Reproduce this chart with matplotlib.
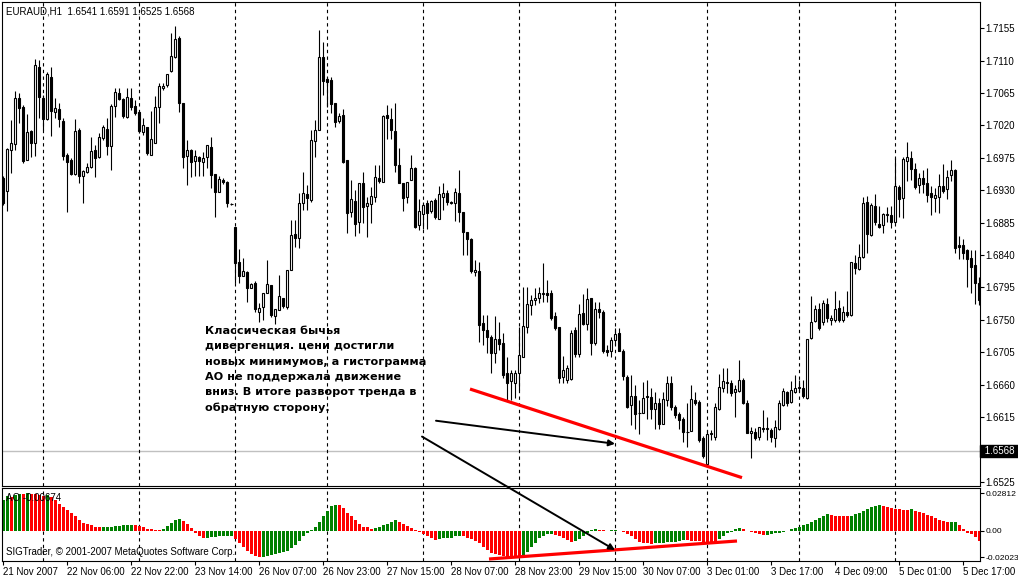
import matplotlib
matplotlib.use("Agg")
import matplotlib.pyplot as plt
from matplotlib.patches import Rectangle, ConnectionPatch
import numpy as np

W, H = 1018, 576

# EURAUD H1 bars
opens = [
    1.6947, 1.6929, 1.6986, 1.6994, 1.7058, 1.7046, 1.6972, 1.7012, 1.6996, 1.7101,
    1.7058, 1.7029, 1.7087, 1.7038, 1.7043, 1.7026, 1.6979, 1.6972, 1.6952, 1.7014,
    1.6950, 1.6955, 1.6962, 1.6986, 1.6976, 1.7002, 1.7015, 1.6991, 1.7047, 1.7065,
    1.7057, 1.7032, 1.7058, 1.7047, 1.7038, 1.7011, 1.7018, 1.6979, 1.6996, 1.7046,
    1.7072, 1.7076, 1.7095, 1.7115, 1.7141, 1.7051, 1.6978, 1.6986, 1.6971, 1.6976,
    1.6969, 1.6976, 1.6990, 1.6952, 1.6928, 1.6944, 1.6941, 1.6911, 1.6879, 1.6830,
    1.6811, 1.6816, 1.6794, 1.6801, 1.6761, 1.6768, 1.6787, 1.6798, 1.6755, 1.6764,
    1.6781, 1.6768, 1.6819, 1.6869, 1.6864, 1.6912, 1.6925, 1.6916, 1.6998, 1.7014,
    1.7115, 1.7084, 1.7083, 1.7051, 1.7026, 1.7034, 1.6972, 1.6900, 1.6915, 1.6886,
    1.6940, 1.6908, 1.6911, 1.6920, 1.6947, 1.6941, 1.7034, 1.7029, 1.7012, 1.6965,
    1.6940, 1.6920, 1.6944, 1.6961, 1.6882, 1.6897, 1.6912, 1.6901, 1.6916, 1.6890,
    1.6920, 1.6926, 1.6914, 1.6912, 1.6926, 1.6900, 1.6872, 1.6862, 1.6816, 1.6818,
    1.6745, 1.6736, 1.6726, 1.6704, 1.6723, 1.6718, 1.6676, 1.6665, 1.6662, 1.6676,
    1.6698, 1.6740, 1.6770, 1.6778, 1.6781, 1.6786, 1.6787, 1.6787, 1.6755, 1.6740,
    1.6671, 1.6667, 1.6668, 1.6736, 1.6703, 1.6759, 1.6744, 1.6780, 1.6718, 1.6765,
    1.6761, 1.6708, 1.6707, 1.6722, 1.6732, 1.6707, 1.6671, 1.6632, 1.6645, 1.6621,
    1.6621, 1.6644, 1.6643, 1.6626, 1.6635, 1.6606, 1.6639, 1.6662, 1.6629, 1.6619,
    1.6612, 1.6594, 1.6596, 1.6639, 1.6636, 1.6586, 1.6550, 1.6592, 1.6588, 1.6626,
    1.6655, 1.6664, 1.6662, 1.6650, 1.6651, 1.6667, 1.6635, 1.6593, 1.6594, 1.6588,
    1.6600, 1.6599, 1.6597, 1.6586, 1.6599, 1.6632, 1.6650, 1.6636, 1.6650, 1.6655,
    1.6655, 1.6642, 1.6725, 1.6748, 1.6765, 1.6747, 1.6772, 1.6750, 1.6750, 1.6767,
    1.6750, 1.6761, 1.6757, 1.6829, 1.6820, 1.6837, 1.6914, 1.6868, 1.6908, 1.6883,
    1.6882, 1.6896, 1.6896, 1.6886, 1.6934, 1.6919, 1.6971, 1.6975, 1.6959, 1.6937,
    1.6947, 1.6940, 1.6926, 1.6919, 1.6920, 1.6936, 1.6932, 1.6951, 1.6958, 1.6854,
    1.6854, 1.6847, 1.6836, 1.6826, 1.6801,
]
highs = [
    1.6950, 1.6989, 1.7027, 1.7068, 1.7065, 1.7048, 1.7036, 1.7014, 1.7112, 1.7111,
    1.7062, 1.7094, 1.7101, 1.7058, 1.7051, 1.7030, 1.6982, 1.6975, 1.7029, 1.7016,
    1.6958, 1.6968, 1.7004, 1.6993, 1.7009, 1.7020, 1.7030, 1.7050, 1.7072, 1.7072,
    1.7058, 1.7072, 1.7072, 1.7055, 1.7040, 1.7030, 1.7018, 1.7040, 1.7061, 1.7079,
    1.7079, 1.7091, 1.7148, 1.7158, 1.7144, 1.7051, 1.7000, 1.6987, 1.6986, 1.6978,
    1.6983, 1.6993, 1.7004, 1.6952, 1.6950, 1.6947, 1.6943, 1.6912, 1.6879, 1.6848,
    1.6836, 1.6818, 1.6801, 1.6804, 1.6773, 1.6787, 1.6833, 1.6798, 1.6765, 1.6812,
    1.6781, 1.6819, 1.6889, 1.6889, 1.6926, 1.6955, 1.6937, 1.7014, 1.7027, 1.7152,
    1.7136, 1.7087, 1.7087, 1.7051, 1.7037, 1.7043, 1.6972, 1.6944, 1.6930, 1.6940,
    1.6955, 1.6920, 1.6934, 1.6965, 1.6965, 1.7034, 1.7048, 1.7044, 1.7051, 1.6989,
    1.6940, 1.6941, 1.6979, 1.6962, 1.6918, 1.6914, 1.6916, 1.6916, 1.6919, 1.6936,
    1.6940, 1.6930, 1.6915, 1.6933, 1.6958, 1.6900, 1.6872, 1.6864, 1.6833, 1.6830,
    1.6757, 1.6757, 1.6729, 1.6755, 1.6747, 1.6732, 1.6698, 1.6680, 1.6680, 1.6740,
    1.6796, 1.6796, 1.6784, 1.6794, 1.6796, 1.6829, 1.6805, 1.6791, 1.6761, 1.6740,
    1.6700, 1.6687, 1.6736, 1.6740, 1.6772, 1.6786, 1.6794, 1.6781, 1.6775, 1.6775,
    1.6764, 1.6715, 1.6726, 1.6739, 1.6739, 1.6710, 1.6673, 1.6673, 1.6659, 1.6639,
    1.6664, 1.6667, 1.6655, 1.6650, 1.6641, 1.6650, 1.6672, 1.6672, 1.6632, 1.6622,
    1.6615, 1.6635, 1.6659, 1.6650, 1.6639, 1.6589, 1.6597, 1.6597, 1.6635, 1.6675,
    1.6683, 1.6683, 1.6667, 1.6659, 1.6694, 1.6669, 1.6639, 1.6601, 1.6600, 1.6601,
    1.6625, 1.6615, 1.6600, 1.6611, 1.6639, 1.6655, 1.6651, 1.6665, 1.6673, 1.6667,
    1.6667, 1.6723, 1.6783, 1.6770, 1.6773, 1.6778, 1.6780, 1.6757, 1.6790, 1.6778,
    1.6769, 1.6790, 1.6830, 1.6840, 1.6855, 1.6921, 1.6922, 1.6912, 1.6925, 1.6908,
    1.6898, 1.6907, 1.6908, 1.6975, 1.6937, 1.6976, 1.6997, 1.6984, 1.6968, 1.6954,
    1.6958, 1.6961, 1.6936, 1.6933, 1.6952, 1.6966, 1.6958, 1.6972, 1.6959, 1.6866,
    1.6862, 1.6848, 1.6847, 1.6847, 1.6810,
]
lows = [
    1.6909, 1.6901, 1.6954, 1.6986, 1.7023, 1.6968, 1.6972, 1.6976, 1.6978, 1.7030,
    1.7014, 1.7027, 1.7005, 1.7030, 1.7018, 1.6972, 1.6900, 1.6951, 1.6951, 1.6940,
    1.6912, 1.6954, 1.6961, 1.6948, 1.6975, 1.7000, 1.6979, 1.6958, 1.7032, 1.7055,
    1.7030, 1.7030, 1.7041, 1.7034, 1.7009, 1.7007, 1.6979, 1.6979, 1.6996, 1.7023,
    1.7069, 1.7073, 1.7094, 1.7113, 1.7038, 1.6961, 1.6937, 1.6948, 1.6950, 1.6950,
    1.6950, 1.6961, 1.6933, 1.6893, 1.6928, 1.6939, 1.6907, 1.6909, 1.6801, 1.6801,
    1.6811, 1.6775, 1.6794, 1.6761, 1.6747, 1.6750, 1.6787, 1.6754, 1.6744, 1.6764,
    1.6767, 1.6765, 1.6819, 1.6851, 1.6850, 1.6902, 1.6902, 1.6914, 1.6976, 1.7014,
    1.7062, 1.7046, 1.7037, 1.7018, 1.7023, 1.6968, 1.6871, 1.6893, 1.6866, 1.6871,
    1.6884, 1.6865, 1.6884, 1.6914, 1.6940, 1.6941, 1.7001, 1.7001, 1.6955, 1.6940,
    1.6901, 1.6912, 1.6944, 1.6878, 1.6875, 1.6876, 1.6876, 1.6898, 1.6890, 1.6890,
    1.6902, 1.6909, 1.6911, 1.6887, 1.6886, 1.6840, 1.6840, 1.6815, 1.6811, 1.6719,
    1.6715, 1.6704, 1.6676, 1.6690, 1.6708, 1.6669, 1.6639, 1.6639, 1.6642, 1.6653,
    1.6698, 1.6732, 1.6757, 1.6770, 1.6773, 1.6775, 1.6775, 1.6750, 1.6736, 1.6662,
    1.6662, 1.6662, 1.6667, 1.6698, 1.6698, 1.6743, 1.6736, 1.6701, 1.6715, 1.6753,
    1.6704, 1.6700, 1.6698, 1.6715, 1.6707, 1.6667, 1.6627, 1.6604, 1.6599, 1.6592,
    1.6621, 1.6612, 1.6612, 1.6599, 1.6599, 1.6606, 1.6630, 1.6625, 1.6614, 1.6599,
    1.6580, 1.6573, 1.6596, 1.6632, 1.6580, 1.6558, 1.6548, 1.6583, 1.6583, 1.6625,
    1.6650, 1.6648, 1.6644, 1.6615, 1.6650, 1.6633, 1.6593, 1.6558, 1.6583, 1.6583,
    1.6594, 1.6583, 1.6580, 1.6573, 1.6597, 1.6630, 1.6630, 1.6635, 1.6648, 1.6650,
    1.6642, 1.6640, 1.6723, 1.6747, 1.6736, 1.6743, 1.6747, 1.6743, 1.6747, 1.6747,
    1.6747, 1.6754, 1.6755, 1.6814, 1.6819, 1.6836, 1.6843, 1.6866, 1.6882, 1.6878,
    1.6871, 1.6886, 1.6878, 1.6884, 1.6893, 1.6891, 1.6943, 1.6944, 1.6932, 1.6926,
    1.6926, 1.6914, 1.6896, 1.6900, 1.6898, 1.6926, 1.6918, 1.6943, 1.6843, 1.6834,
    1.6834, 1.6796, 1.6787, 1.6772, 1.6770,
]
closes = [
    1.6912, 1.6987, 1.6996, 1.7058, 1.7044, 1.6971, 1.7011, 1.6996, 1.7104, 1.7059,
    1.7029, 1.7091, 1.7040, 1.7044, 1.7029, 1.6978, 1.6969, 1.6952, 1.7012, 1.6950,
    1.6957, 1.6962, 1.6984, 1.6975, 1.7004, 1.7018, 1.6991, 1.7047, 1.7066, 1.7057,
    1.7033, 1.7059, 1.7046, 1.7037, 1.7012, 1.7020, 1.6982, 1.7001, 1.7046, 1.7075,
    1.7075, 1.7091, 1.7116, 1.7140, 1.7051, 1.6976, 1.6986, 1.6969, 1.6978, 1.6971,
    1.6975, 1.6993, 1.6951, 1.6928, 1.6945, 1.6941, 1.6912, 1.6911, 1.6829, 1.6811,
    1.6818, 1.6794, 1.6800, 1.6765, 1.6767, 1.6787, 1.6800, 1.6757, 1.6765, 1.6783,
    1.6769, 1.6819, 1.6868, 1.6864, 1.6912, 1.6926, 1.6919, 1.7000, 1.7014, 1.7115,
    1.7082, 1.7080, 1.7050, 1.7025, 1.7033, 1.6969, 1.6898, 1.6918, 1.6883, 1.6940,
    1.6907, 1.6912, 1.6922, 1.6948, 1.6943, 1.7033, 1.7030, 1.7014, 1.6965, 1.6940,
    1.6919, 1.6941, 1.6961, 1.6879, 1.6901, 1.6909, 1.6898, 1.6915, 1.6893, 1.6925,
    1.6926, 1.6914, 1.6912, 1.6928, 1.6900, 1.6872, 1.6862, 1.6818, 1.6819, 1.6743,
    1.6736, 1.6726, 1.6704, 1.6723, 1.6716, 1.6673, 1.6663, 1.6676, 1.6676, 1.6701,
    1.6741, 1.6772, 1.6778, 1.6781, 1.6787, 1.6787, 1.6784, 1.6753, 1.6739, 1.6669,
    1.6680, 1.6683, 1.6732, 1.6703, 1.6758, 1.6744, 1.6779, 1.6718, 1.6765, 1.6761,
    1.6707, 1.6705, 1.6722, 1.6730, 1.6707, 1.6672, 1.6629, 1.6644, 1.6620, 1.6621,
    1.6641, 1.6643, 1.6626, 1.6635, 1.6606, 1.6640, 1.6662, 1.6629, 1.6618, 1.6611,
    1.6594, 1.6594, 1.6640, 1.6635, 1.6583, 1.6561, 1.6592, 1.6593, 1.6629, 1.6657,
    1.6665, 1.6662, 1.6648, 1.6654, 1.6667, 1.6635, 1.6593, 1.6596, 1.6586, 1.6601,
    1.6599, 1.6600, 1.6588, 1.6601, 1.6635, 1.6651, 1.6635, 1.6653, 1.6655, 1.6657,
    1.6644, 1.6723, 1.6747, 1.6765, 1.6739, 1.6773, 1.6753, 1.6753, 1.6765, 1.6750,
    1.6761, 1.6757, 1.6830, 1.6822, 1.6837, 1.6912, 1.6869, 1.6909, 1.6886, 1.6879,
    1.6897, 1.6897, 1.6886, 1.6936, 1.6918, 1.6973, 1.6976, 1.6959, 1.6934, 1.6947,
    1.6939, 1.6923, 1.6920, 1.6923, 1.6936, 1.6929, 1.6948, 1.6958, 1.6850, 1.6851,
    1.6843, 1.6834, 1.6823, 1.6801, 1.6778,
]

# Awesome Oscillator values
ao = [
    0.0232, 0.0257, 0.0252, 0.0267, 0.0276, 0.0272, 0.0281, 0.0277, 0.0272, 0.0267,
    0.0262, 0.0267, 0.0252, 0.0227, 0.0202, 0.0176, 0.0156, 0.0131, 0.0106, 0.0081,
    0.0060, 0.0048, 0.0038, 0.0028, 0.0023, 0.0025, 0.0028, 0.0030, 0.0033, 0.0035,
    0.0038, 0.0040, 0.0043, 0.0040, 0.0033, 0.0023, 0.0010, 0.0008, 0.0005, 0.0003,
    0.0015, 0.0035, 0.0060, 0.0078, 0.0086, 0.0071, 0.0050, 0.0018, -0.0015, -0.0040,
    -0.0055, -0.0053, -0.0050, -0.0048, -0.0045, -0.0043, -0.0040, -0.0038, -0.0066, -0.0096,
    -0.0121, -0.0151, -0.0176, -0.0194, -0.0201, -0.0199, -0.0194, -0.0186, -0.0176, -0.0169,
    -0.0161, -0.0151, -0.0134, -0.0111, -0.0078, -0.0040, -0.0015, 0.0003, 0.0030, 0.0068,
    0.0111, 0.0144, 0.0186, 0.0194, 0.0192, 0.0169, 0.0136, 0.0106, 0.0076, 0.0050,
    0.0030, 0.0023, 0.0015, 0.0020, 0.0028, 0.0038, 0.0050, 0.0063, 0.0076, 0.0066,
    0.0053, 0.0035, 0.0018, 0.0005, -0.0008, -0.0023, -0.0040, -0.0055, -0.0071, -0.0066,
    -0.0060, -0.0058, -0.0053, -0.0045, -0.0040, -0.0045, -0.0055, -0.0066, -0.0076, -0.0096,
    -0.0121, -0.0146, -0.0166, -0.0176, -0.0184, -0.0192, -0.0197, -0.0199, -0.0200, -0.0202,
    -0.0186, -0.0159, -0.0126, -0.0091, -0.0060, -0.0040, -0.0028, -0.0023, -0.0030, -0.0040,
    -0.0053, -0.0071, -0.0086, -0.0081, -0.0063, -0.0040, -0.0018, 0.0003, 0.0008, 0.0005,
    0.0003, -0.0003, 0.0001, 0.0005, -0.0005, -0.0013, -0.0023, -0.0040, -0.0066, -0.0086,
    -0.0093, -0.0096, -0.0098, -0.0096, -0.0093, -0.0091, -0.0088, -0.0086, -0.0083, -0.0078,
    -0.0071, -0.0073, -0.0076, -0.0078, -0.0081, -0.0083, -0.0086, -0.0088, -0.0091, -0.0066,
    -0.0040, -0.0020, -0.0008, 0.0008, 0.0018, 0.0010, -0.0003, -0.0008, -0.0015, -0.0023,
    -0.0033, -0.0030, -0.0028, -0.0020, -0.0015, -0.0008, -0.0002, 0.0010, 0.0018, 0.0030,
    0.0038, 0.0048, 0.0063, 0.0078, 0.0096, 0.0111, 0.0121, 0.0116, 0.0113, 0.0111,
    0.0108, 0.0106, 0.0113, 0.0121, 0.0136, 0.0151, 0.0166, 0.0179, 0.0186, 0.0189,
    0.0184, 0.0179, 0.0171, 0.0164, 0.0159, 0.0156, 0.0154, 0.0159, 0.0151, 0.0141,
    0.0131, 0.0118, 0.0106, 0.0093, 0.0081, 0.0071, 0.0063, 0.0066, 0.0068, 0.0043,
    0.0015, -0.0015, -0.0028, -0.0050, -0.0081,
]

price_ticks = [1.7155, 1.7110, 1.7065, 1.7020, 1.6975, 1.6930, 1.6885, 1.6840,
               1.6795, 1.6750, 1.6705, 1.6660, 1.6615, 1.6525]
ao_ticks = [0.02812, 0.0, -0.02023]
ao_tick_labels = ['0.02812', '0.00', '-0.02023']
date_bars = [0, 16, 32, 48, 64, 80, 96, 112, 128, 144, 160, 176, 192, 208, 224, 240]
date_labels = ['21 Nov 2007', '22 Nov 06:00', '22 Nov 22:00', '23 Nov 14:00',
               '26 Nov 07:00', '26 Nov 23:00', '27 Nov 15:00', '28 Nov 07:00',
               '28 Nov 23:00', '29 Nov 15:00', '30 Nov 07:00', '3 Dec 01:00',
               '3 Dec 17:00', '4 Dec 09:00', '5 Dec 01:00', '5 Dec 17:00']
day_starts = [10, 34, 58, 81, 105, 129, 153, 176, 199, 223]
last_price = 1.6568
header = 'EURAUD,H1  1.6541 1.6591 1.6525 1.6568'
ao_label = 'AO -0.00674'
copyright_text = 'SIGTrader, © 2001-2007 MetaQuotes Software Corp.'
note = ('Классическая бычья\n'
        'дивергенция. цени достигли\n'
        'новых минимумов, а гистограмма\n'
        'АО не поддержала движение\n'
        'вниз. В итоге разворот тренда в\n'
        'обратную сторону.')

# hand drawn objects on the chart (bar index, value)
price_trend = [(116.75, 1.6654), (184.75, 1.6531)]
ao_trend = [(121.5, -0.0215), (183.5, -0.0079)]
arrow1 = [(108.25, 1.6610), (153.0, 1.6578)]
arrow2 = [(104.75, 1.6588), (153.0, -0.0147)]

plt.rcParams['font.family'] = ['Liberation Sans', 'DejaVu Sans']

fig = plt.figure(figsize=(W / 100, H / 100), dpi=100)
fig.patch.set_facecolor('white')


def box(x0, y0, x1, y1):
    # pixel box (top-left origin) -> figure rect
    return [x0 / W, 1 - y1 / H, (x1 - x0) / W, (y1 - y0) / H]


ax = fig.add_axes(box(2, 2, 980, 486))
ax2 = fig.add_axes(box(2, 488, 980, 561))

n = len(closes)
xs = np.arange(n)

# candles
ax.vlines(xs, lows, highs, color='black', lw=0.8, zorder=2)
for i in range(n):
    o, c = opens[i], closes[i]
    if o == c:
        ax.hlines(o, i - 0.375, i + 0.375, color='black', lw=0.8, zorder=3)
    else:
        fc = 'white' if c > o else 'black'
        ax.add_patch(Rectangle((i - 0.25, min(o, c)), 0.5, abs(c - o),
                               facecolor=fc, edgecolor='black', lw=0.8, zorder=3))

for b in day_starts:
    ax.axvline(b, color='black', lw=0.8, ls=(0, (3, 3)), zorder=1)
    ax2.axvline(b, color='black', lw=0.8, ls=(0, (3, 3)), zorder=1)

ax.axhline(last_price, color='#c0c0c0', lw=1, zorder=0)

ax.set_xlim(-0.25, n - 0.75)
ax.set_ylim(1.65194, 1.71912)
ax.yaxis.tick_right()
ax.set_yticks(price_ticks)
ax.set_yticklabels([f'{v:.4f}' for v in price_ticks])
ax.tick_params(axis='y', length=3, width=0.8, pad=1, labelsize=7)
ax.set_xticks([])
for s in ax.spines.values():
    s.set_linewidth(0.8)

ax.text(1.002, last_price, ' 1.6568 ', transform=ax.get_yaxis_transform(),
        color='white', fontsize=7, va='center', ha='left',
        bbox=dict(boxstyle='square,pad=0.15', fc='black', ec='black'))

# trend line and arrows
ax.plot(*zip(*price_trend), color='red', lw=2.3, solid_capstyle='butt', zorder=5)
ax.annotate('', xy=arrow1[1], xytext=arrow1[0],
            arrowprops=dict(arrowstyle='-|>', color='black', lw=1.4,
                            mutation_scale=9, shrinkA=0, shrinkB=0), zorder=6)

# AO histogram
colors = ['#008000']
for i in range(1, n):
    colors.append('#008000' if ao[i] > ao[i - 1] else '#ff0000')
ax2.bar(xs, ao, width=0.75, color=colors, lw=0, zorder=2)
ax2.plot(*zip(*ao_trend), color='red', lw=2.3, solid_capstyle='butt', zorder=5)

ax2.set_xlim(-0.25, n - 0.75)
ax2.set_ylim(-0.0230, 0.0321)
ax2.yaxis.tick_right()
ax2.set_yticks(ao_ticks)
ax2.set_yticklabels(ao_tick_labels)
ax2.tick_params(axis='y', length=3, width=0.8, pad=1, labelsize=6.1)
ax2.set_xticks(date_bars)
ax2.set_xticklabels(date_labels, ha='left')
ax2.tick_params(axis='x', length=3, width=0.8, pad=1, labelsize=7)
for s in ax2.spines.values():
    s.set_linewidth(0.8)

con = ConnectionPatch(xyA=arrow2[0], coordsA=ax.transData,
                      xyB=arrow2[1], coordsB=ax2.transData,
                      arrowstyle='-|>', color='black', lw=1.4,
                      mutation_scale=9, shrinkA=0, shrinkB=0, zorder=6)
fig.add_artist(con)

fig.text(6 / W, 1 - 11 / H, header, fontsize=7, va='center', ha='left')
fig.text(6 / W, 1 - 498 / H, ao_label, fontsize=7, va='center', ha='left')
fig.text(6 / W, 1 - 552 / H, copyright_text, fontsize=7, va='center', ha='left')
fig.text(205 / W, 1 - 326 / H, note, fontsize=8.1, fontweight='bold',
         family='DejaVu Sans', va='top', ha='left', linespacing=1.66)

fig.savefig('out.png', dpi=100)
